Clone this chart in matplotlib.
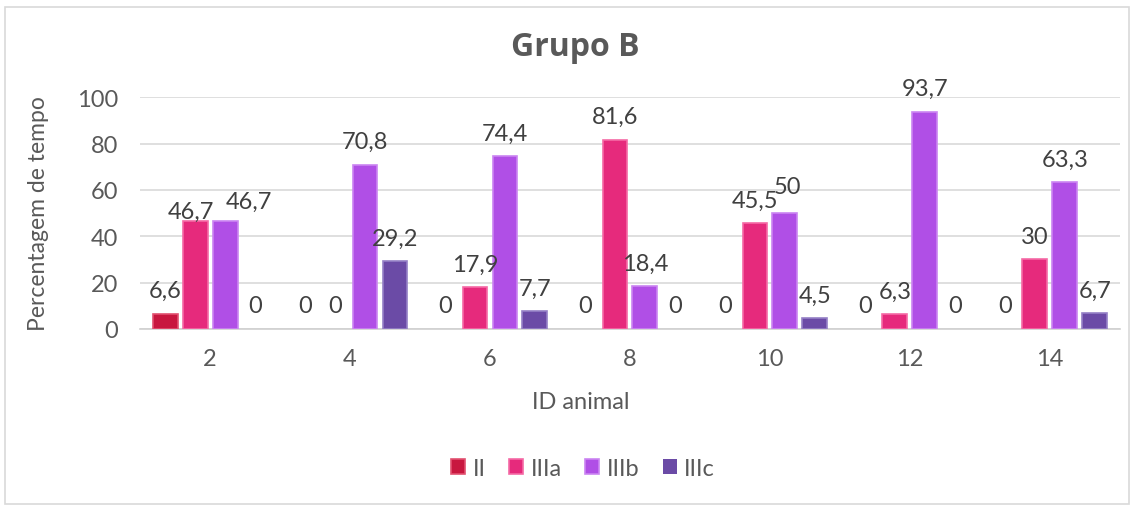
import matplotlib.pyplot as plt
import numpy as np
from matplotlib.patches import Rectangle

# dados
animais = ['2', '4', '6', '8', '10', '12', '14']
series = ['II', 'IIIa', 'IIIb', 'IIIc']
ii   = [6.6, 0, 0, 0, 0, 0, 0]
iiia = [46.7, 0, 17.9, 81.6, 45.5, 6.3, 30]
iiib = [46.7, 70.8, 74.4, 18.4, 50, 93.7, 63.3]
iiic = [0, 29.2, 7.7, 0, 4.5, 0, 6.7]
valores = [ii, iiia, iiib, iiic]

cores = ['#C8173F', '#E62A7C', '#B04FE6', '#6B4BA6']
bordas = ['#E25070', '#F56AA5', '#CB85F2', '#9580C6']

# deslocamentos (px) de rótulos que se sobrepõem
ajustes = {(1, 0): (-4, -14), (2, 0): (24, -4), (2, 4): (3, 4)}

plt.rcParams['font.family'] = ['Lato', 'DejaVu Sans']
fig = plt.figure(figsize=(11.3, 5.06), dpi=100)
ax = fig.add_axes([0.124, 0.348, 0.867, 0.458])

x = np.arange(len(animais))
largura = 0.178
passo = 0.214
for i, (nome, vals) in enumerate(zip(series, valores)):
    pos = x + (i - 1.5) * passo
    lw = [1.2 if v > 0 else 0 for v in vals]
    ax.bar(pos, vals, width=largura, color=cores[i], edgecolor=bordas[i],
           linewidth=lw, label=nome, zorder=3)
    for j, (xb, v) in enumerate(zip(pos, vals)):
        dx, dy = ajustes.get((i, j), (0, 0))
        txt = ('%g' % v).replace('.', ',')
        ax.annotate(txt, (xb, v), xytext=(dx * 0.72, 9 + dy * 0.72),
                    textcoords='offset points', ha='center', va='bottom',
                    fontsize=17, color='#404040', zorder=4)

ax.set_xlim(-0.5, len(animais) - 0.5)
ax.set_ylim(0, 100)
ax.set_yticks(range(0, 101, 20))
ax.set_xticks(x)
ax.set_xticklabels(animais)
ax.tick_params(axis='both', length=0, labelsize=17, labelcolor='#595959')
ax.tick_params(axis='x', pad=14)
ax.tick_params(axis='y', pad=16)
ax.yaxis.grid(True, color='#D9D9D9', linewidth=1.2, zorder=0)
for s in ['top', 'right', 'left']:
    ax.spines[s].set_visible(False)
ax.spines['bottom'].set_color('#D0D0D0')
ax.spines['bottom'].set_linewidth(1.2)

ax.set_xlabel('ID animal', fontsize=17, color='#595959')
ax.xaxis.set_label_coords(0.45, -0.27)
ax.set_ylabel('Percentagem de tempo', fontsize=16.5, color='#595959', va='center')
ax.yaxis.set_label_coords(-0.104, 0.5)
fig.text(575 / 1130, 1 - 47 / 506, 'Grupo B', fontsize=23, fontweight='bold',
         color='#595959', ha='center', va='center', family=['Open Sans', 'DejaVu Sans'])

ax.legend(loc='center', bbox_to_anchor=(0.452, -0.603), ncol=4, frameon=False,
          fontsize=17, handlelength=0.6, handleheight=0.6, handletextpad=0.3,
          columnspacing=1.0, labelcolor='#595959')

# moldura do gráfico
fig.patches.append(Rectangle((0.004, 0.002), 0.995, 0.983, transform=fig.transFigure,
                             fill=False, edgecolor='#D9D9D9', linewidth=1.2))

fig.savefig('out.png', dpi=100)
